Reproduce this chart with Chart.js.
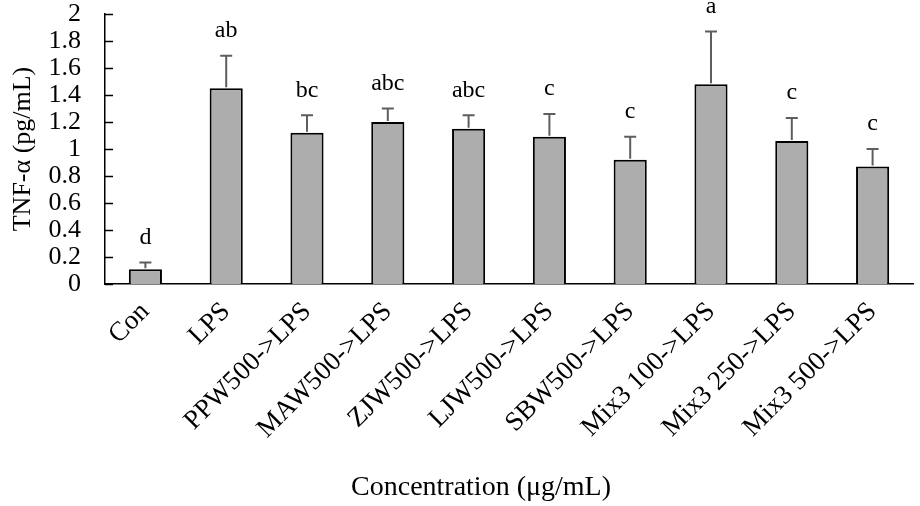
<!DOCTYPE html>
<html>
<head>
<meta charset="utf-8">
<script src="https://cdn.jsdelivr.net/npm/chart.js@4.4.1/dist/chart.umd.min.js"></script>
<style>
  html, body { margin: 0; padding: 0; background: #fff; }
  #wrap { width: 920px; height: 506px; }
</style>
</head>
<body>
<div id="wrap"><canvas id="barChart" width="920" height="506"></canvas></div>
<script>
var categories = ['Con', 'LPS', 'PPW500->LPS', 'MAW500->LPS', 'ZJW500->LPS', 'LJW500->LPS',
                  'SBW500->LPS', 'Mix3 100->LPS', 'Mix3 250->LPS', 'Mix3 500->LPS'];
var means = [0.11, 1.45, 1.12, 1.20, 1.15, 1.09, 0.92, 1.48, 1.06, 0.87];
var errors = [0.05, 0.24, 0.13, 0.10, 0.10, 0.17, 0.17, 0.39, 0.17, 0.13];
var letters = ['d', 'ab', 'bc', 'abc', 'abc', 'c', 'c', 'a', 'c', 'c'];
var yTicks = [0, 0.2, 0.4, 0.6, 0.8, 1, 1.2, 1.4, 1.6, 1.8, 2];
var xTitle = 'Concentration (μg/mL)';

var serif = 'Liberation Serif, Times New Roman, serif';

// error bars (upward only), significance letters, inside y ticks, x title
var extras = {
    id: 'extras',
    afterDatasetsDraw: function (chart) {
        var c = chart.ctx;
        var x = chart.scales.x, y = chart.scales.y;
        var meta = chart.getDatasetMeta(0);
        c.save();
        meta.data.forEach(function (bar, i) {
            var top = y.getPixelForValue(means[i] + errors[i]);
            c.strokeStyle = '#5e5e5e';
            c.lineWidth = 2;
            c.beginPath();
            c.moveTo(bar.x, bar.y - 1);
            c.lineTo(bar.x, top);
            c.moveTo(bar.x - 6, top);
            c.lineTo(bar.x + 6, top);
            c.stroke();
            c.fillStyle = '#000';
            c.font = '24px ' + serif;
            c.textAlign = 'center';
            c.textBaseline = 'middle';
            c.fillText(letters[i], bar.x, top - 25);
        });
        c.strokeStyle = '#000';
        c.lineWidth = 1.5;
        yTicks.forEach(function (v) {
            var py = Math.round(y.getPixelForValue(v)) + 0.5;
            c.beginPath();
            c.moveTo(x.left, py);
            c.lineTo(x.left + 8, py);
            c.stroke();
        });
        c.fillStyle = '#000';
        c.font = '28px ' + serif;
        c.textAlign = 'center';
        c.textBaseline = 'middle';
        c.fillText(xTitle, 481, 488);
        c.restore();
    }
};

var ctx = document.getElementById('barChart').getContext('2d');
var myChart = new Chart(ctx, {
    type: 'bar',
    data: {
        labels: categories,
        datasets: [{
            data: means,
            backgroundColor: '#adadad',
            borderColor: '#000',
            borderWidth: 2,
            barPercentage: 0.41,
            categoryPercentage: 1
        }]
    },
    options: {
        responsive: false,
        animation: false,
        layout: { padding: { top: 14, right: 7, left: 0, bottom: 0 } },
        plugins: {
            legend: { display: false },
            tooltip: { enabled: false }
        },
        scales: {
            x: {
                grid: { display: false, drawTicks: false },
                border: { display: true, color: '#000', width: 1.5 },
                ticks: {
                    color: '#000',
                    font: { family: serif, size: 27 },
                    minRotation: 45,
                    maxRotation: 45,
                    autoSkip: false,
                    padding: 12
                },
                afterFit: function (s) {
                    s.height = 222;
                    s.paddingTop = 0;
                }
            },
            y: {
                min: 0,
                max: 2,
                grid: { display: false, drawTicks: false },
                border: { display: true, color: '#000', width: 1.5 },
                afterBuildTicks: function (s) {
                    s.ticks = yTicks.map(function (v) { return { value: v }; });
                },
                ticks: {
                    color: '#000',
                    autoSkip: false,
                    font: { family: serif, size: 26 },
                    padding: 24,
                    callback: function (v) { return String(v); }
                },
                title: {
                    display: true,
                    text: 'TNF-α (pg/mL)',
                    color: '#000',
                    font: { family: serif, size: 26 },
                    padding: { top: 8, bottom: 0 }
                },
                afterFit: function (s) {
                    s.width = 105;
                    s.paddingTop = 0;
                    s.paddingBottom = 0;
                }
            }
        }
    },
    plugins: [extras]
});
</script>
</body>
</html>
